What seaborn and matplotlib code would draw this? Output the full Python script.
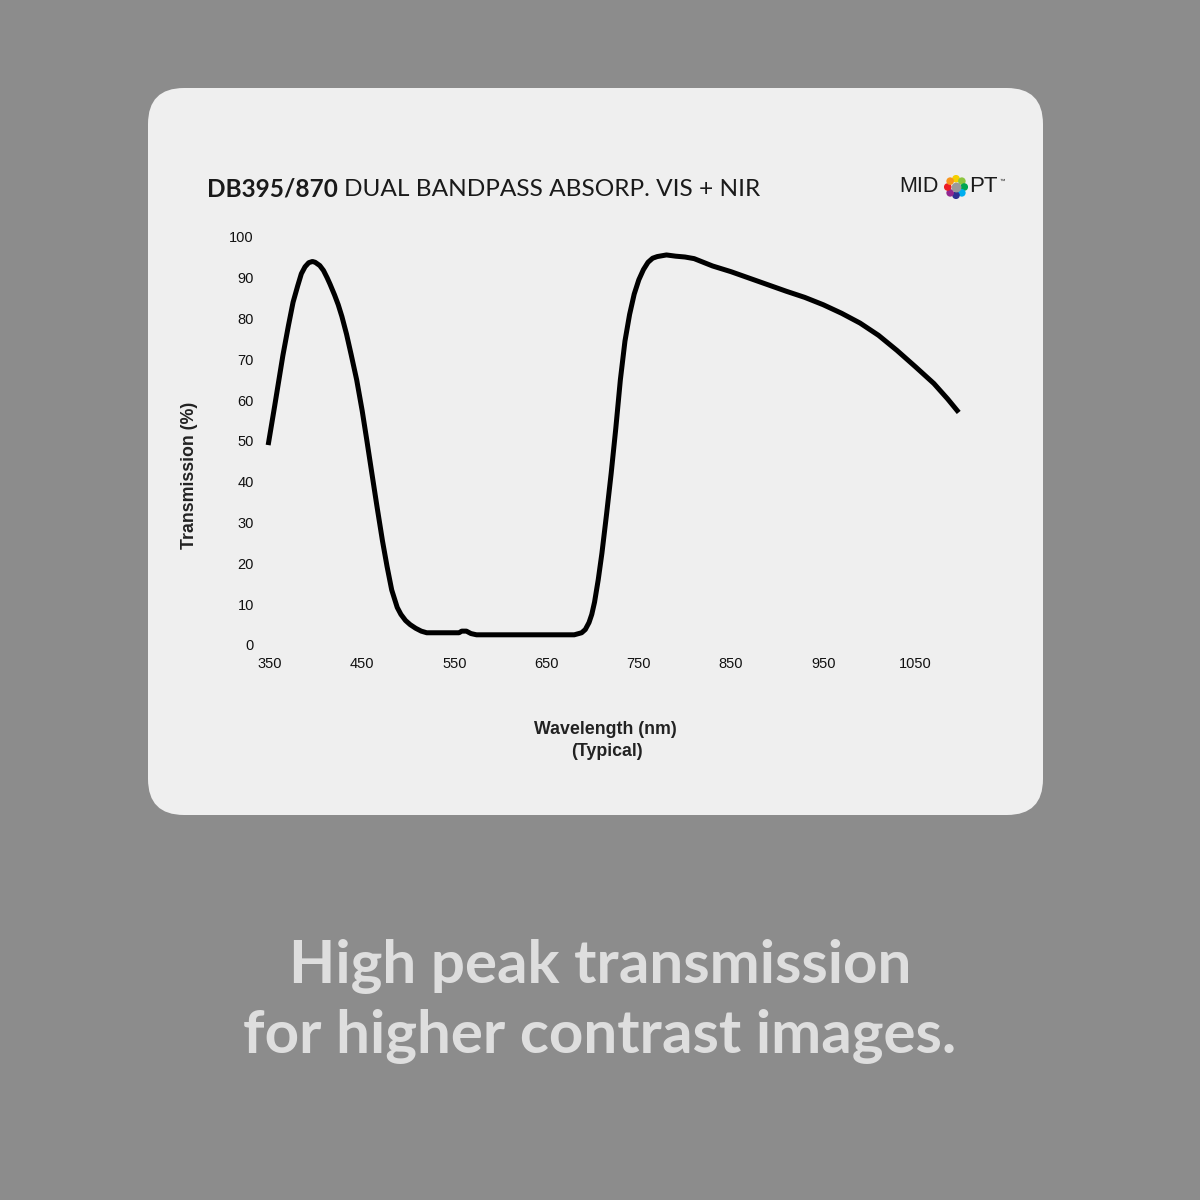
import numpy as np
import pandas as pd
import matplotlib
matplotlib.use("Agg")
import matplotlib.pyplot as plt
from matplotlib.patches import FancyBboxPatch
import seaborn as sns

# Transmission curve
wavelength = [348, 355, 364, 370, 375, 380, 384, 388, 392, 396, 399, 404, 408, 412, 415, 420, 424, 428,
              433, 438, 444, 450, 455, 460, 466, 472, 477, 482, 488, 492, 497, 502, 508, 514, 520, 555,
              558, 563, 568, 574, 680, 688, 692, 696, 699, 702, 706, 710, 715, 720, 725, 730, 735, 740,
              745, 750, 755, 760, 765, 770, 780, 790, 800, 810, 820, 830, 850, 870, 890, 910,
              930, 950, 970, 990, 1010, 1030, 1050, 1070, 1085, 1097]
transmission = [49.0, 58.5, 71.0, 78.3, 84.0, 88.0, 91.0, 92.7, 93.7, 94.0, 93.8, 93.0, 91.8, 90.0, 88.5,
                85.8, 83.4, 80.5, 76.2, 71.2, 65.0, 57.4, 50.2, 42.8, 34.0, 25.5, 19.2, 13.5, 9.2, 7.5,
                6.0, 5.0, 4.1, 3.4, 3.0, 3.0, 3.4, 3.4, 2.8, 2.5, 2.5, 3.0, 3.8, 5.5, 7.5, 10.5, 16.0,
                22.5, 32.0, 42.0, 53.0, 65.0, 74.5, 81.0, 86.0, 89.5, 92.0, 93.8, 94.8, 95.2, 95.6, 95.3,
                95.1, 94.7, 93.8, 92.9, 91.5, 89.9, 88.3, 86.7, 85.2, 83.4, 81.3, 78.9, 75.9, 72.2, 68.2,
                64.1, 60.3, 57.0]

x_ticks = [350, 450, 550, 650, 750, 850, 950, 1050]
y_ticks = [0, 10, 20, 30, 40, 50, 60, 70, 80, 90, 100]

df = pd.DataFrame({"Wavelength": wavelength, "Transmission": transmission})

sns.set_theme(style="white")
plt.rcParams["font.family"] = ["Liberation Sans", "DejaVu Sans"]

bg = "#8c8c8c"
card = "#efefef"

fig = plt.figure(figsize=(12, 12), dpi=100, facecolor=bg)

# rounded card, behind everything
fig.patches.append(FancyBboxPatch((148 / 1200, 1 - 815 / 1200), (1043 - 148) / 1200, (815 - 88) / 1200,
                                  boxstyle="round,pad=0,rounding_size=0.03",
                                  transform=fig.transFigure, facecolor=card, edgecolor="none", zorder=-10))

# axes: 340..1110 nm, 0..100 %
px_per_nm = 0.922
left = 270 - 10 * px_per_nm
right = 270 + 760 * px_per_nm
ax = fig.add_axes([left / 1200, 1 - 645 / 1200, (right - left) / 1200, (645 - 237) / 1200])
ax.set_zorder(5)
ax.set_facecolor("none")
sns.lineplot(data=df, x="Wavelength", y="Transmission", color="black", linewidth=3.6,
             sort=False, ax=ax)
ax.lines[0].set_clip_on(False)
ax.lines[0].set_solid_capstyle("butt")
ax.lines[0].set_solid_joinstyle("round")
ax.set_xlim(340, 1110)
ax.set_ylim(0, 100)
ax.set_xticks(x_ticks)
ax.set_yticks(y_ticks)
ax.tick_params(axis="both", length=0, labelsize=10.5, colors="#111111")
ax.tick_params(axis="x", pad=9)
ax.tick_params(axis="y", pad=5)
for s in ax.spines.values():
    s.set_visible(False)
ax.set_xlabel("")
ax.set_ylabel("")

fig.text(190 / 1200, 1 - 475 / 1200, "Transmission (%)", rotation=90, ha="center", va="center",
         fontsize=12.8, fontweight="bold", color="#222222")
fig.text(605 / 1200, 1 - 729 / 1200, "Wavelength (nm)", ha="center", va="center",
         fontsize=12.8, fontweight="bold", color="#222222")
fig.text(607 / 1200, 1 - 751 / 1200, "(Typical)", ha="center", va="center",
         fontsize=12.8, fontweight="bold", color="#222222")

# title, bold part then regular part
renderer = fig.canvas.get_renderer()
t1 = fig.text(207 / 1200, 1 - 189 / 1200, "DB395/870", ha="left", va="center",
              fontsize=17.6, fontweight="bold", family=["Lato", "DejaVu Sans"], color="#1a1a1a")
bb = t1.get_window_extent(renderer)
fig.text((bb.x1 + 6) / 1200, 1 - 189 / 1200, "DUAL BANDPASS ABSORP. VIS + NIR", ha="left", va="center",
         fontsize=17.6, family=["Lato", "DejaVu Sans"], color="#1a1a1a")

# logo
fig.text(899 / 1200, 1 - 187 / 1200, "MID", ha="left", va="center", fontsize=15.5,
         family=["Liberation Sans", "DejaVu Sans"], color="#1a1a1a")
fig.text(969 / 1200, 1 - 187 / 1200, "PT", ha="left", va="center", fontsize=16,
         family=["Liberation Sans", "DejaVu Sans"], color="#1a1a1a")
fig.text(1000 / 1200, 1 - 181 / 1200, "\u2122", ha="left", va="center", fontsize=4,
         color="#1a1a1a")
lax = fig.add_axes([(956 - 12) / 1200, 1 - (187 + 12) / 1200, 24 / 1200, 24 / 1200])
lax.set_zorder(6)
lax.set_xlim(-1.45, 1.45)
lax.set_ylim(-1.45, 1.45)
lax.axis("off")
ang = np.linspace(90, 90 - 360, 9)[:-1] * np.pi / 180
dot_colors = ["#f5d000", "#8dc63f", "#00a651", "#00aeef", "#2e3192", "#92278f", "#ed1c24", "#f7941d"]
lax.scatter(np.cos(ang), np.sin(ang), s=30, c=dot_colors, linewidths=0)
lax.scatter([0], [0], s=50, c="#9a9a9a", linewidths=0)

# bottom caption
fig.text(0.5, 1 - 966 / 1200, "High peak transmission", ha="center", va="center",
         fontsize=43.3, fontweight="bold", family=["Lato", "DejaVu Sans"], color="#dedede")
fig.text(0.5, 1 - 1036 / 1200, "for higher contrast images.", ha="center", va="center",
         fontsize=43.3, fontweight="bold", family=["Lato", "DejaVu Sans"], color="#dedede")

fig.savefig("out.png", dpi=100, facecolor=bg)
